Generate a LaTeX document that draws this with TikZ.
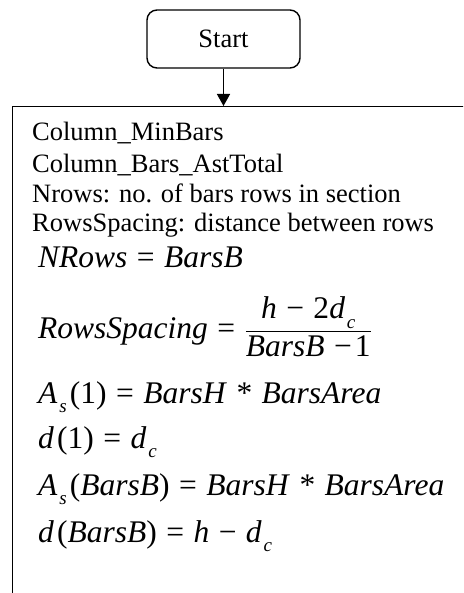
\documentclass[tikz,border=0pt]{standalone}
\usepackage{amsmath}
\usepackage{fontspec}
\setmainfont{Liberation Serif}
\usetikzlibrary{positioning, arrows.meta}
\newcommand{\mi}[1]{\textit{#1}}
\newcommand{\sbs}[1]{\kern0.06em\raisebox{-0.3em}{\fontsize{19}{19}\selectfont\itshape #1}}
\newcommand{\mminus}{\char"2212\relax}
\newcommand{\op}[1]{\kern0.3em#1\kern0.3em}

\begin{document}
\begin{tikzpicture}[
        x=1pt, y=-1pt,
        terminal/.style={rectangle, draw, line width=1.4pt, rounded corners=10pt, minimum width=153pt, minimum height=58pt, align=center, font=\fontsize{26.5}{30}\selectfont},
        procbox/.style={rectangle, draw, line width=1.4pt, minimum width=540pt, minimum height=560pt, anchor=north west},
        txt/.style={anchor=base west, inner sep=0pt, font=\fontsize{26.5}{30}\selectfont},
        eqn/.style={anchor=base west, inner sep=0pt, font=\fontsize{31.5}{36}\selectfont},
        arrow/.style={-{Triangle[length=12pt, width=13pt]}, line width=1.4pt}
    ]
        \useasboundingbox (0,0) rectangle (463,593);
        \clip (0,0) rectangle (463,593);

        % Start
        \node[terminal] (start) at (223.5,39) {Start};

        % Process
        \node[procbox] (proc) at (12,106) {};

        % Inputs
        \node[txt] (in1) at (32,141) {Column\_MinBars};
        \node[txt] (in2) at (32,173) {Column\_Bars\_AstTotal};
        \node[txt] (in3) at (32,203) {Nrows: no. of bars rows in section};
        \node[txt] (in4) at (32,232) {RowsSpacing: distance between rows};

        % Equations
        \node[eqn] (eq1) at (38,267) {\mi{NRows}\op{=}\mi{BarsB}};
        \node[eqn] (eq2) at (38,338) {\mi{RowsSpacing}\op{=}$\displaystyle\frac{\hbox{\kern2pt\mi{h}\op{\mminus}2\mi{d}\sbs{c}\kern2pt}}{\hbox{\mi{BarsB}\op{\mminus}\kern-0.2em1}}$};
        \node[eqn] (eq3) at (38,403) {\mi{A}\sbs{s}\kern0.1em(1)\op{=}\mi{BarsH}\op{*}\mi{BarsArea}};
        \node[eqn] (eq4) at (38,448) {\mi{d}\kern0.1em(1)\op{=}\mi{d}\sbs{c}};
        \node[eqn] (eq5) at (38,495) {\mi{A}\sbs{s}\kern0.1em(\mi{BarsB})\op{=}\mi{BarsH}\op{*}\mi{BarsArea}};
        \node[eqn] (eq6) at (38,542) {\mi{d}\kern0.1em(\mi{BarsB})\op{=}\mi{h}\op{\mminus}\mi{d}\sbs{c}};

        % Arrows
        \draw[arrow] (start) -- (start |- proc.north);
    \end{tikzpicture}
\end{document}
